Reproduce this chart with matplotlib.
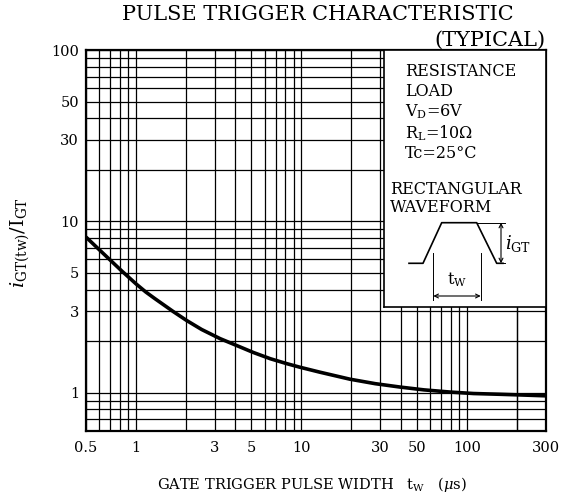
import numpy as np
import matplotlib
matplotlib.use("Agg")
import matplotlib.pyplot as plt
from matplotlib.ticker import FixedLocator, NullFormatter

plt.rcParams['font.family'] = ['DejaVu Serif']
plt.rcParams['mathtext.fontset'] = 'dejavuserif'

# curve
tw = [0.5, 0.6, 0.7, 0.82, 1.0, 1.15, 1.3, 1.69, 2.03, 2.5, 3.23, 4.0, 5.12, 6.5, 8.15, 9.8,
      12.9, 19.7, 28, 39.5, 55, 79, 110, 159, 220, 300]
ratio = [8.1, 6.85, 5.95, 5.15, 4.33, 3.87, 3.55, 2.97, 2.64, 2.34, 2.07, 1.90, 1.72, 1.58, 1.48,
         1.41, 1.32, 1.20, 1.13, 1.08, 1.04, 1.01, 0.99, 0.98, 0.97, 0.96]

xticks = [0.5, 1, 3, 5, 10, 30, 50, 100, 300]
xlabels = ['0.5', '1', '3', '5', '10', '30', '50', '100', '300']
yticks = [1, 3, 5, 10, 30, 50, 100]
ylabels = ['1', '3', '5', '10', '30', '50', '100']

xgrid = [0.6, 0.7, 0.8, 0.9] + [m * d for d in (1, 10, 100) for m in range(1, 10)] + [200, 300]
ygrid = [0.7, 0.8, 0.9] + [m * d for d in (1, 10) for m in range(1, 10)] + [100]

W, H = 562, 503
fig = plt.figure(figsize=(W / 100, H / 100), dpi=100)
L, R, T, B = 86, 545.7, 50, 430.8
ax = fig.add_axes([L / W, 1 - B / H, (R - L) / W, (B - T) / H])
ax.set_xscale('log')
ax.set_yscale('log')
ax.set_xlim(0.5, 300)
ax.set_ylim(0.6, 100)

ax.xaxis.set_major_locator(FixedLocator(xticks))
ax.xaxis.set_minor_locator(FixedLocator(xgrid))
ax.yaxis.set_major_locator(FixedLocator(yticks))
ax.yaxis.set_minor_locator(FixedLocator(ygrid))
ax.set_xticklabels(xlabels)
ax.set_yticklabels(ylabels)
ax.xaxis.set_minor_formatter(NullFormatter())
ax.yaxis.set_minor_formatter(NullFormatter())
ax.tick_params(which='both', length=0, labelsize=10.5, colors='black')
ax.tick_params(axis='x', pad=7)
ax.tick_params(axis='y', pad=5)
ax.grid(which='both', color='black', linewidth=0.9)
for s in ax.spines.values():
    s.set_linewidth(1.6)

ax.plot(tw, ratio, color='black', linewidth=2.6, solid_capstyle='butt',
        solid_joinstyle='round', zorder=3)

# conditions box, drawn in pixel coordinates
bx0, by0 = 384, 306.7
ib = fig.add_axes([bx0 / W, 1 - by0 / H, (R - bx0) / W, (by0 - T) / H])
ib.set_xlim(bx0, R)
ib.set_ylim(by0, T)
ib.set_xticks([])
ib.set_yticks([])
for s in ib.spines.values():
    s.set_linewidth(1.2)
fs = 11.5
ib.text(405, 71, 'RESISTANCE', fontsize=fs, va='center')
ib.text(405, 91, 'LOAD', fontsize=fs, va='center')
ib.text(405, 112, r'V$_\mathrm{D}$=6V', fontsize=fs, va='center')
ib.text(405, 133, r'R$_\mathrm{L}$=10$\Omega$', fontsize=fs, va='center')
ib.text(405, 154, 'Tc=25°C', fontsize=fs, va='center')
ib.text(390, 189, 'RECTANGULAR', fontsize=fs, va='center')
ib.text(390, 208, 'WAVEFORM', fontsize=fs, va='center')

ib.plot([409, 423, 441.7, 476.7, 496.7, 503], [263.3, 263.3, 222.7, 222.7, 263.3, 263.3],
        color='black', linewidth=1.2)
ib.plot([476.7, 505], [222.7, 222.7], color='black', linewidth=0.7)
ib.plot([496.7, 505], [263.3, 263.3], color='black', linewidth=0.7)
ib.annotate('', xy=(501, 222.7), xytext=(501, 263.3),
            arrowprops=dict(arrowstyle='<->', lw=0.8, color='black', shrinkA=0, shrinkB=0,
                            mutation_scale=7))
ib.plot([433.3, 433.3], [253, 300], color='black', linewidth=0.7)
ib.plot([480.7, 480.7], [253, 300], color='black', linewidth=0.7)
ib.annotate('', xy=(433.3, 296), xytext=(480.7, 296),
            arrowprops=dict(arrowstyle='<->', lw=0.8, color='black', shrinkA=0, shrinkB=0,
                            mutation_scale=7))
ib.text(457, 280, r'$\mathrm{t_W}$', fontsize=fs, ha='center', va='center')
ib.text(505, 243, r'$i_\mathrm{GT}$', fontsize=13, ha='left', va='center')

fig.text(318 / W, 1 - 15 / H, 'PULSE TRIGGER CHARACTERISTIC', fontsize=15, ha='center', va='center')
fig.text(546 / W, 1 - 40 / H, '(TYPICAL)', fontsize=15, ha='right', va='center')
fig.text(312 / W, 1 - 485 / H, r'GATE TRIGGER PULSE WIDTH   $\mathrm{t_W}$   ($\mu$s)',
         fontsize=10.5, ha='center', va='center')
fig.text(20 / W, 1 - 243 / H, r'$i_\mathrm{GT(tw)}/\mathrm{I_{GT}}$', fontsize=14,
         rotation=90, ha='center', va='center')

fig.savefig('out.png', dpi=100)
